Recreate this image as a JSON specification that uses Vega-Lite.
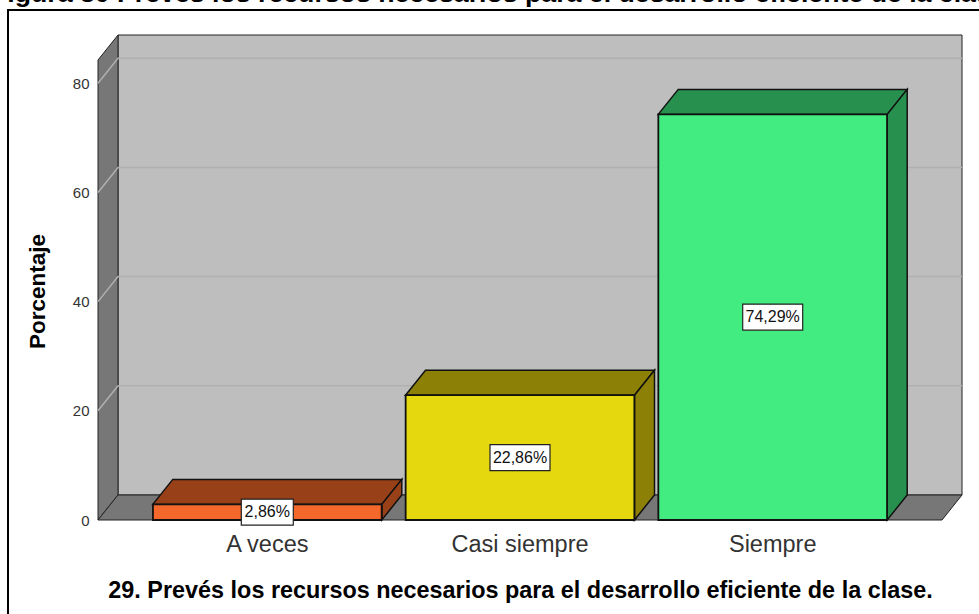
{
"$schema":"https://vega.github.io/schema/vega-lite/v6.json",
"autosize":{"type":"none"},
"width":844,"height":485,
"padding":{"left":98,"top":35,"right":37,"bottom":94},
"background":"white",
"view":{"stroke":null},
"datasets":{
"bars":[
{"categoria":"A veces","porcentaje":2.86,"mitad":1.43,"etiqueta":"2,86%"},
{"categoria":"Casi siempre","porcentaje":22.86,"mitad":11.43,"etiqueta":"22,86%"},
{"categoria":"Siempre","porcentaje":74.29,"mitad":37.145,"etiqueta":"74,29%"}],
"grid":[{"tick":20},{"tick":40},{"tick":60},{"tick":80}],
"base":[{"categoria":"Casi siempre","nivel":0,"cima":88.83,"titulo":"Figura 30 Prevés los recursos necesarios para el desarrollo eficiente de la clase"}]
},
"encoding":{
"x":{"field":"categoria","type":"nominal","sort":null,"scale":{"domain":["A veces","Casi siempre","Siempre"],"paddingInner":0.0949,"paddingOuter":0.2174},
"axis":{"labelAngle":0,"ticks":false,"domain":false,"labelFont":"Liberation Sans","labelFontSize":23.5,"labelColor":"#333333","labelPadding":12,"title":"29. Prevés los recursos necesarios para el desarrollo eficiente de la clase.","titleFont":"Liberation Sans","titleFontSize":23.4,"titleFontWeight":"bold","titleColor":"#000000","titlePadding":24}},
"y":{"type":"quantitative","scale":{"domain":[0,88.83],"nice":false},
"axis":{"values":[0,20,40,60,80],"grid":false,"ticks":false,"domain":false,"labelFont":"Liberation Sans","labelFontSize":15,"labelColor":"#333333","labelPadding":9,"title":"Porcentaje","titleFont":"Liberation Sans","titleFontSize":22.5,"titleFontWeight":"bold","titleColor":"#000000","titlePadding":23,"titleY":256}}
},
"layer":[
{"data":{"name":"base"},"mark":{"type":"point","shape":"M -512 -510 L 480 -510 L 480 110 L -512 110 Z","size":4,"filled":false,"stroke":"#000000","strokeWidth":2,"opacity":1},"encoding":{"y":{"field":"nivel"}}},
{"data":{"name":"base"},"mark":{"type":"text","font":"Liberation Sans","fontSize":26.7,"fontWeight":"bold","color":"#000000","align":"left","baseline":"alphabetic","dx":-529,"dy":-33.5},"encoding":{"y":{"field":"cima"},"text":{"field":"titulo"}}},
{"data":{"name":"base"},"mark":{"type":"point","shape":"M -402 -25 L -402 -485 L 442 -485 L 442 -25 Z","size":4,"filled":true,"fill":"#bebebe","stroke":"#222222","strokeWidth":1,"opacity":1},"encoding":{"y":{"field":"nivel"}}},
{"data":{"name":"base"},"mark":{"type":"point","shape":"M -422 0 L -402 -25 L -402 -485 L -422 -460 Z","size":4,"filled":true,"fill":"#777777","stroke":"#222222","strokeWidth":1,"opacity":1},"encoding":{"y":{"field":"nivel"}}},
{"data":{"name":"base"},"mark":{"type":"point","shape":"M -422 0 L -402 -25 L 442 -25 L 422 0 Z","size":4,"filled":true,"fill":"#777777","stroke":"#222222","strokeWidth":1,"opacity":1},"encoding":{"y":{"field":"nivel"}}},
{"data":{"name":"grid"},"mark":{"type":"point","shape":"M -422 0 L -402 -25 L 442 -25","size":4,"filled":false,"stroke":"#b0b0b0","strokeWidth":1.5,"opacity":1},"encoding":{"x":{"datum":"Casi siempre"},"y":{"field":"tick"}}},
{"data":{"name":"bars"},"mark":{"type":"point","shape":"M -114.5 0 L -94.5 -25 L 134.5 -25 L 114.5 0 Z","size":4,"filled":true,"stroke":"#111111","strokeWidth":1.5,"opacity":1},"encoding":{"y":{"field":"porcentaje"},"fill":{"field":"categoria","legend":null,"scale":{"domain":["A veces","Casi siempre","Siempre"],"range":["#984018","#8c8106","#27904e"]}}}},
{"data":{"name":"bars"},"mark":{"type":"point","size":4,"filled":true,"stroke":"#111111","strokeWidth":1.5,"opacity":1},"encoding":{"y":{"field":"porcentaje"},"fill":{"field":"categoria","legend":null,"scale":{"domain":["A veces","Casi siempre","Siempre"],"range":["#984018","#8c8106","#27904e"]}},"shape":{"field":"categoria","legend":null,"scale":{"domain":["A veces","Casi siempre","Siempre"],"range":["M 114.5 0 L 134.5 -25 L 134.5 -9.4 L 114.5 15.6 Z","M 114.5 0 L 134.5 -25 L 134.5 99.8 L 114.5 124.8 Z","M 114.5 0 L 134.5 -25 L 134.5 380.6 L 114.5 405.6 Z"]}}}},
{"data":{"name":"bars"},"mark":{"type":"bar","stroke":"#111111","strokeWidth":1.8},"encoding":{"y":{"field":"porcentaje"},"fill":{"field":"categoria","legend":null,"scale":{"domain":["A veces","Casi siempre","Siempre"],"range":["#f4682b","#e6d80f","#42ec80"]}}}},
{"data":{"name":"bars"},"mark":{"type":"point","size":4,"filled":true,"fill":"#ffffff","stroke":"#222222","strokeWidth":1.2,"opacity":1},"encoding":{"y":{"field":"mitad"},"shape":{"field":"categoria","legend":null,"scale":{"domain":["A veces","Casi siempre","Siempre"],"range":["M -26 -13 L 26 -13 L 26 13 L -26 13 Z","M -30 -13 L 30 -13 L 30 13 L -30 13 Z","M -30 -13 L 30 -13 L 30 13 L -30 13 Z"]}}}},
{"data":{"name":"bars"},"mark":{"type":"text","font":"Liberation Sans","fontSize":16,"color":"#111111","baseline":"middle","align":"center"},"encoding":{"y":{"field":"mitad"},"text":{"field":"etiqueta"}}}
],
"resolve":{"scale":{"fill":"independent","shape":"independent"}}
}
